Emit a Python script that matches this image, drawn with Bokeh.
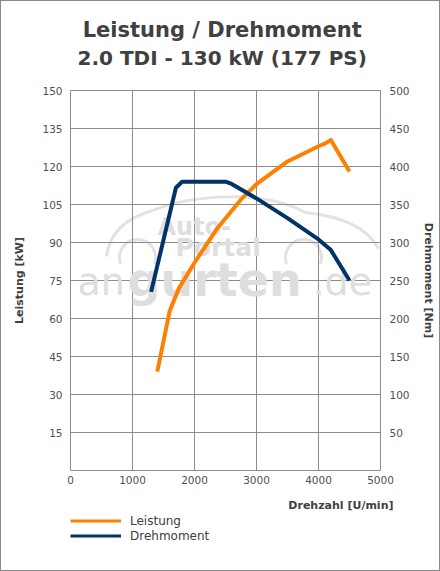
from bokeh.plotting import figure
from bokeh.models import (Range1d, LinearAxis, FixedTicker, Label, Legend, LegendItem, Column)
from bokeh.embed import file_html
from bokeh.resources import INLINE

# ---- data ----
rpm_torque = [1300, 1700, 1800, 2500, 2600, 3000, 3500, 4000, 4200, 4500]
torque_nm = [235, 372, 380, 380, 377, 358, 332, 304, 290, 250]
rpm_power = [1400, 1600, 1750, 2000, 2350, 2750, 3000, 3500, 4000, 4100, 4200, 4500]
power_kw = [39, 63, 72, 82, 95, 107, 113, 122, 128, 129, 130.5, 118]

x_ticks = [0, 1000, 2000, 3000, 4000, 5000]
kw_ticks = [15, 30, 45, 60, 75, 90, 105, 120, 135, 150]
nm_ticks = [50, 100, 150, 200, 250, 300, 350, 400, 450, 500]

title_text = "Leistung / Drehmoment"
subtitle_text = "2.0 TDI - 130 kW (177 PS)"
x_label = "Drehzahl [U/min]"
y_left_label = "Leistung [kW]"
y_right_label = "Drehmoment [Nm]"
series_names = ["Leistung", "Drehmoment"]

# ---- layout constants (pixels inside a 1px page border) ----
W = 438
H_TOP, H_MAIN, H_BOT = 79, 410, 80
FL, FR = 69, 379          # frame left/right in canvas px
FT, FH = 10, 380          # frame top inside main canvas, frame height
X0, X1, Y0, Y1 = 0, 5000, 0, 150

FONT = "DejaVu Sans"
TXT = "#404040"
GRID = "#8c8c8c"
ORANGE = "#ff8000"
NAVY = "#003366"
WM = "#dedede"


def strip(height):
    f = figure(width=W, height=height, output_backend="svg", toolbar_location=None,
               x_axis_location=None, y_axis_location=None,
               min_border_left=0, min_border_right=0, min_border_top=0, min_border_bottom=0)
    if "frame_align" in f.properties():
        f.frame_align = False
        f.x_range = Range1d(0, W)
    else:
        f.x_range = Range1d(FL, FR)
    f.y_range = Range1d(height, 0)
    f.grid.visible = False
    f.outline_line_color = None
    f.background_fill_color = "white"
    f.border_fill_color = "white"
    return f


# ---- title strip ----
p0 = strip(H_TOP)
p0.add_layout(Label(x=220.7, y=28, text=title_text, text_font=FONT, text_font_size="21px",
                    text_font_style="bold", text_color=TXT, text_align="center",
                    text_baseline="middle"))
p0.add_layout(Label(x=220.7, y=56, text=subtitle_text, text_font=FONT, text_font_size="20px",
                    text_font_style="bold", text_color=TXT, text_align="center",
                    text_baseline="middle"))

# ---- main chart ----
p = figure(width=W, height=H_MAIN, output_backend="svg", toolbar_location=None,
           x_range=Range1d(X0, X1), y_range=Range1d(Y0, Y1),
           min_border_left=FL, min_border_right=W - FR,
           min_border_top=FT, min_border_bottom=H_MAIN - FT - FH)
if "frame_align" in p.properties():
    p.frame_align = False
p.extra_y_ranges = {"nm": Range1d(0, 500)}
p.background_fill_color = "white"
p.border_fill_color = "white"
p.outline_line_color = GRID
p.outline_line_width = 1

p.xgrid.ticker = FixedTicker(ticks=x_ticks)
p.ygrid.ticker = FixedTicker(ticks=kw_ticks)
for g in (p.xgrid, p.ygrid):
    g.grid_line_color = GRID
    g.grid_line_width = 1

p.xaxis.ticker = FixedTicker(ticks=x_ticks)
p.yaxis.ticker = FixedTicker(ticks=kw_ticks)
right = LinearAxis(y_range_name="nm", ticker=FixedTicker(ticks=nm_ticks))
p.add_layout(right, "right")
for ax in (p.xaxis[0], p.yaxis[0], right):
    ax.axis_line_color = None
    ax.major_tick_line_color = None
    ax.minor_tick_line_color = None
    ax.major_tick_in = 0
    ax.major_tick_out = 0
    ax.major_label_text_font = FONT
    ax.major_label_text_font_size = "10.5px"
    ax.major_label_text_color = "#505050"
    ax.axis_label_text_font = FONT
    ax.axis_label_text_font_size = "11px"
    ax.axis_label_text_font_style = "bold"
    ax.axis_label_text_color = TXT
p.xaxis.major_label_standoff = 5
p.yaxis.major_label_standoff = 8
right.major_label_standoff = 9
p.yaxis.axis_label = y_left_label
right.axis_label = y_right_label
p.yaxis.axis_label_standoff = 13
right.axis_label_standoff = 9
right.axis_label_orientation = "parallel"


def mx(px):
    return X0 + (px - 1 - FL) / (FR - FL) * (X1 - X0)


def my(py):
    # page y -> data y of main frame (frame top at page 90)
    return Y0 + (90 + FH - py) / FH * (Y1 - Y0)


# watermark (decorative logo behind the curves)
wm_specs = [
    ("an", 77, 281, "38px", "normal"),
    ("gurten", 127, 279, "46px", "bold"),
    (".de", 312, 281, "38px", "normal"),
    ("Auto-", 157, 226, "24px", "bold"),
    ("Portal", 175, 247, "25px", "bold"),
]
for t, px, py, fs, st in wm_specs:
    p.add_layout(Label(x=mx(px), y=my(py), text=t, text_font=FONT,
                       text_font_size=fs, text_font_style=st, text_color=WM,
                       text_align="left", text_baseline="middle", level="underlay"))
car = dict(line_color="#e2e2e2", line_width=3, level="underlay")
p.quadratic(x0=[mx(106)], y0=[my(256)], x1=[mx(152)], y1=[my(210)],
            cx=[mx(110)], cy=[my(222)], **car)
p.bezier(x0=[mx(152)], y0=[my(210)], x1=[mx(305)], y1=[my(212)],
         cx0=[mx(195)], cy0=[my(193)], cx1=[mx(265)], cy1=[my(190)], **car)
p.quadratic(x0=[mx(305)], y0=[my(212)], x1=[mx(378)], y1=[my(248)],
            cx=[mx(362)], cy=[my(218)], **car)
p.arc(x=[mx(137), mx(303)], y=[my(257), my(257)], radius=18, radius_units="screen",
      start_angle=-0.35, end_angle=3.49, **car)

p.line(rpm_power, power_kw, line_color=ORANGE, line_width=4, line_join="round")
p.line(rpm_torque, torque_nm, y_range_name="nm", line_color=NAVY, line_width=4,
       line_join="round")

# ---- bottom strip: x axis title + legend ----
p2 = strip(H_BOT)
p2.add_layout(Label(x=392, y=15, text=x_label, text_font=FONT, text_font_size="11px",
                    text_font_style="bold", text_color=TXT, text_align="right",
                    text_baseline="middle"))
# legend proxies: the series themselves, lying outside this strip's view
lp = p2.line(rpm_power, power_kw, line_color=ORANGE, line_width=3)
lt = p2.line(rpm_torque, torque_nm, line_color=NAVY, line_width=3)
legend = Legend(items=[LegendItem(label=series_names[0], renderers=[lp]),
                       LegendItem(label=series_names[1], renderers=[lt])],
                location=(FL, H_BOT - 53), orientation="vertical")
legend.glyph_width = 51
legend.glyph_height = 15
legend.label_height = 15
legend.spacing = 0
legend.padding = 0
legend.margin = 0
legend.label_standoff = 9
legend.border_line_color = None
legend.background_fill_alpha = 0
legend.label_text_font = FONT
legend.label_text_font_size = "12px"
legend.label_text_color = TXT
p2.add_layout(legend, "center")

layout = Column(children=[p0, p, p2], spacing=0,
                styles={"border": "1px solid #8a8a8a", "gap": "0px"})

open("out.html", "w").write(file_html(layout, INLINE))
